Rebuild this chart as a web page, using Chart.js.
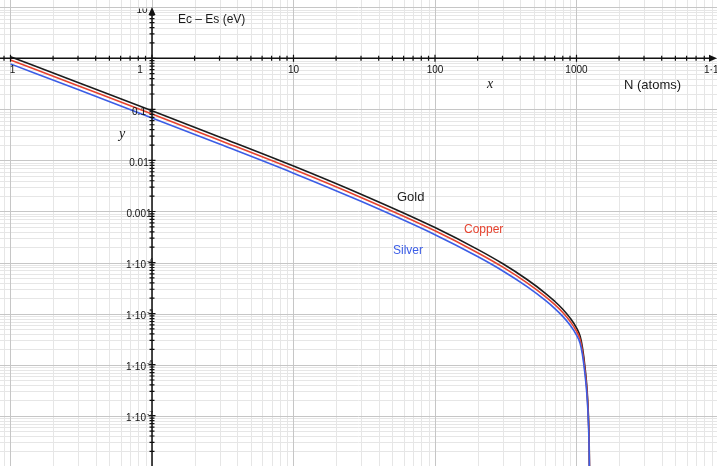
<!DOCTYPE html>
<html>
<head>
<meta charset="utf-8">
<script src="https://cdn.jsdelivr.net/npm/chart.js@4.4.0/dist/chart.umd.min.js"></script>
<style>
  html, body { margin: 0; padding: 0; background: #fff; overflow: hidden; }
  canvas { display: block; }
</style>
</head>
<body>
<canvas id="chart" width="717" height="466"></canvas>
<script>
// Cluster size N (atoms)
const atoms = [0.1, 0.3, 1, 3, 10, 30, 100, 200, 300, 450, 600, 700, 800, 900, 1000, 1060, 1100, 1150, 1190, 1215, 1230, 1240];

// Ec - Es (eV) for each metal
const gold = [1.075, 0.337, 0.0941, 0.0289, 0.00778, 0.00218, 4.85e-4, 1.81e-4, 9.55e-5, 4.6e-5, 2.53e-5, 1.75e-5, 1.22e-5, 8.24e-6, 5.25e-6, 3.63e-6, 2.22e-6, 8.6e-7, 3.0e-7, 9.5e-8, 2.54e-8, 3.2e-9];
const copper = [0.926, 0.290, 0.0810, 0.0249, 0.0067, 0.00188, 4.18e-4, 1.56e-4, 8.22e-5, 3.96e-5, 2.18e-5, 1.51e-5, 1.05e-5, 7.09e-6, 4.52e-6, 3.13e-6, 1.91e-6, 7.4e-7, 2.58e-7, 8.2e-8, 2.19e-8, 2.8e-9];
const silver = [0.778, 0.244, 0.0681, 0.0209, 0.00563, 0.00158, 3.51e-4, 1.31e-4, 6.91e-5, 3.33e-5, 1.83e-5, 1.27e-5, 8.83e-6, 5.97e-6, 3.80e-6, 2.63e-6, 1.61e-6, 6.23e-7, 2.17e-7, 6.9e-8, 1.84e-8, 2.3e-9];

// Axis tick labels
const xTickValues = [0.1, 1, 10, 100, 1000, 10000];
const xTickLabels = ['1', '1', '10', '100', '1000', '1·10⁴'];
const yTickValues = [10, 0.1, 0.01, 0.001, 1e-4, 1e-5, 1e-6, 1e-7];
const yTickLabels = ['10', '0.1', '0.01', '0.001', '1·10', '1·10', '1·10', '1·10'];
const yTickExponents = ['', '', '', '', '-4', '-5', '-6', '-7'];

const series = [
  { name: 'Silver', values: silver, color: '#3b5de6' },
  { name: 'Copper', values: copper, color: '#e6432f' },
  { name: 'Gold', values: gold, color: '#1c1c1c' }
];

const SANS = '"Liberation Sans", Arial, sans-serif';
const SERIF = '"Liberation Serif", "Times New Roman", serif';

const logAxes = {
  id: 'logAxes',
  beforeDatasetsDraw(chart) {
    const { ctx, chartArea: a, scales: { x, y } } = chart;
    ctx.save();
    ctx.fillStyle = '#fff';
    ctx.fillRect(a.left, a.top, a.right - a.left, a.bottom - a.top);
    ctx.lineWidth = 1;
    // minor grid, then decade grid on top
    for (const pass of ['minor', 'major']) {
      ctx.strokeStyle = pass === 'minor' ? '#e6e6e6' : '#c6c6c6';
      ctx.beginPath();
      for (let e = -9; e <= 4; e++) {
        for (let m = 1; m <= 9; m++) {
          if ((m === 1) !== (pass === 'major')) continue;
          const v = m * Math.pow(10, e);
          const px = x.getPixelForValue(v);
          if (px >= a.left && px <= a.right) {
            const p = Math.round(px) + 0.5;
            ctx.moveTo(p, a.top); ctx.lineTo(p, a.bottom);
          }
          const py = y.getPixelForValue(v);
          if (py >= a.top && py <= a.bottom) {
            const q = Math.round(py) + 0.5;
            ctx.moveTo(a.left, q); ctx.lineTo(a.right, q);
          }
        }
      }
      ctx.stroke();
    }
    ctx.restore();
  },
  afterDatasetsDraw(chart) {
    const { ctx, chartArea: a, scales: { x, y } } = chart;
    const ox = x.getPixelForValue(1);
    const oy = y.getPixelForValue(1);
    ctx.save();
    ctx.strokeStyle = '#111';
    ctx.fillStyle = '#111';
    ctx.lineWidth = 1.5;

    // axis lines
    ctx.beginPath();
    ctx.moveTo(a.left, oy); ctx.lineTo(a.right - 4, oy);
    ctx.moveTo(ox, a.bottom); ctx.lineTo(ox, a.top + 12);
    ctx.stroke();

    // arrow heads
    ctx.beginPath();
    ctx.moveTo(a.right, oy); ctx.lineTo(a.right - 8, oy - 3.5); ctx.lineTo(a.right - 8, oy + 3.5); ctx.closePath();
    ctx.moveTo(ox, a.top + 7); ctx.lineTo(ox - 3.5, a.top + 15); ctx.lineTo(ox + 3.5, a.top + 15); ctx.closePath();
    ctx.fill();

    // tick marks
    ctx.lineWidth = 1.2;
    ctx.beginPath();
    for (let e = -9; e <= 4; e++) {
      for (let m = 1; m <= 9; m++) {
        const v = m * Math.pow(10, e);
        const len = m === 1 ? 3.5 : 2.5;
        const px = x.getPixelForValue(v);
        if (px > a.left && px < a.right - 8) {
          ctx.moveTo(px, oy - len); ctx.lineTo(px, oy + len);
        }
        const py = y.getPixelForValue(v);
        if (py > a.top + 15 && py < a.bottom) {
          ctx.moveTo(ox - len, py); ctx.lineTo(ox + len, py);
        }
      }
    }
    ctx.stroke();

    // x tick labels
    ctx.font = '10px ' + SANS;
    ctx.textBaseline = 'middle';
    xTickValues.forEach((v, i) => {
      let px = x.getPixelForValue(v);
      ctx.textAlign = 'center';
      if (v === 1) px -= 12;
      if (i === 0) px += 2;
      if (v === 10000) { ctx.textAlign = 'left'; px -= 14; }
      ctx.fillText(xTickLabels[i], px, oy + 12);
    });

    // y tick labels
    yTickValues.forEach((v, i) => {
      const py = y.getPixelForValue(v) + 2.5;
      ctx.save();
      ctx.font = '10px ' + SANS;
      if (yTickExponents[i]) {
        ctx.textAlign = 'right';
        ctx.fillText(yTickLabels[i], ox - 6, py);
        ctx.textAlign = 'left';
        ctx.font = '7px ' + SANS;
        ctx.fillText(yTickExponents[i], ox - 5, py - 4);
      } else if (v === 10) {
        ctx.beginPath(); ctx.rect(0, 8.5, 300, 20); ctx.clip();
        ctx.textAlign = 'center';
        ctx.fillText(yTickLabels[i], ox - 10, 10);
      } else {
        ctx.textAlign = 'center';
        ctx.fillText(yTickLabels[i], ox - 13, py);
      }
      ctx.restore();
    });

    // axis titles
    ctx.textAlign = 'left';
    ctx.fillStyle = '#1a1a1a';
    ctx.font = '12px ' + SANS;
    ctx.fillText('Ec – Es (eV)', 178, 20);
    ctx.font = '13px ' + SANS;
    ctx.fillText('N (atoms)', 624, 85);
    ctx.font = 'italic 14px ' + SERIF;
    ctx.fillText('x', 487, 84);
    ctx.fillText('y', 119, 134);

    // series names beside the curves
    ctx.font = '13px ' + SANS;
    ctx.fillStyle = '#222';
    ctx.fillText('Gold', 397, 197);
    ctx.font = '12px ' + SANS;
    ctx.fillStyle = '#e6432f';
    ctx.fillText('Copper', 464, 230);
    ctx.fillStyle = '#3b5de6';
    ctx.fillText('Silver', 393, 251);
    ctx.restore();
  }
};

new Chart(document.getElementById('chart'), {
  type: 'line',
  data: {
    datasets: series.map(s => ({
      label: s.name,
      data: atoms.map((n, i) => ({ x: n, y: s.values[i] })),
      borderColor: s.color,
      borderWidth: 1.6,
      pointRadius: 0,
      fill: false,
      cubicInterpolationMode: 'monotone'
    }))
  },
  options: {
    responsive: false,
    animation: false,
    devicePixelRatio: 1,
    layout: { padding: 0 },
    plugins: { legend: { display: false }, tooltip: { enabled: false } },
    scales: {
      x: { type: 'logarithmic', display: false, min: 0.0843, max: 9840 },
      y: { type: 'logarithmic', display: false, min: 1.035e-8, max: 13.87 }
    }
  },
  plugins: [logAxes]
});
</script>
</body>
</html>
